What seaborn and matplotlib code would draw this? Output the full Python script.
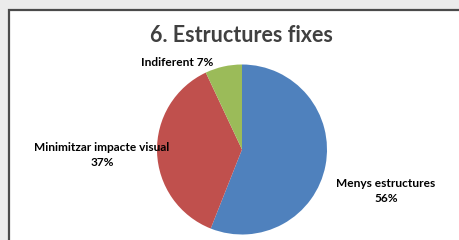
import matplotlib
matplotlib.use("Agg")
import matplotlib.pyplot as plt
from matplotlib.patches import Rectangle
import seaborn as sns

# data
categories = ["Menys estructures", "Minimitzar impacte visual", "Indiferent"]
shares = [56, 37, 7]
colors = ["#4F81BD", "#C0504D", "#9BBB59"]
title = "6. Estructures fixes"

sns.set_theme(style="white")
plt.rcParams['font.family'] = ['Lato', 'DejaVu Sans']

W, H = 460, 240
fig = plt.figure(figsize=(W / 100, H / 100), dpi=100)
fig.patch.set_facecolor("#ebebeb")

# white chart area with dark border, on a background axes
bg = fig.add_axes([0, 0, 1, 1], zorder=-1)
bg.set_xlim(0, W)
bg.set_ylim(H, 0)
bg.axis("off")
bg.add_patch(Rectangle((9, 10), W + 20, H + 20, facecolor="white",
                       edgecolor="#4a4a4a", linewidth=1.6, clip_on=False))

def px(x, y):
    return x / W, 1 - y / H

cx, cy, r = 242, 149.5, 85
ax = fig.add_axes([(cx - r) / W, (H - cy - r) / H, 2 * r / W, 2 * r / H])
ax.pie(shares, colors=colors, startangle=90, counterclock=False,
       wedgeprops=dict(linewidth=0))
ax.set_xlim(-1, 1)
ax.set_ylim(-1, 1)
ax.set_aspect("equal")
ax.axis("off")

fig.text(*px(241, 35), title, ha="center", va="center", fontsize=15.5,
         fontweight="bold", color="#404040")

lab = dict(ha="center", va="center", fontsize=8.6, fontweight="bold",
           color="black", linespacing=1.55)
fig.text(*px(177, 63), f"{categories[2]} {shares[2]}%", **lab)
fig.text(*px(102, 155), f"{categories[1]}\n{shares[1]}%", **lab)
fig.text(*px(386, 191), f"{categories[0]}\n{shares[0]}%", **lab)

fig.savefig("out.png", dpi=100, facecolor=fig.get_facecolor())
